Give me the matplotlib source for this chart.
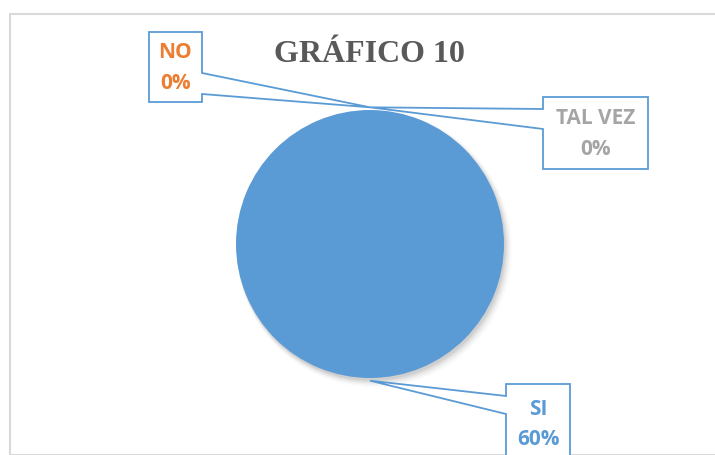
import matplotlib
matplotlib.use("Agg")
import matplotlib.pyplot as plt
from matplotlib.patches import Polygon, Rectangle
from matplotlib.transforms import IdentityTransform
import numpy as np

categories = ["SI", "NO", "TAL VEZ"]
values = [60, 0, 0]
pct_labels = ["60%", "0%", "0%"]
colors = ["#5B9BD5", "#ED7D31", "#A5A5A5"]
title = "GRÁFICO 10"

W, H = 715, 456
fig = plt.figure(figsize=(W / 100, H / 100), dpi=100)
fig.patch.set_facecolor("white")

# chart area border
fig.patches.append(Rectangle((10 / W, 0), 1.2, (H - 15) / H, transform=fig.transFigure,
                             fill=False, edgecolor="#D9D9D9", linewidth=1.5))

cx, cy, r = 370, 245, 134
ax = fig.add_axes([(cx - r) / W, (H - cy - r) / H, 2 * r / W, 2 * r / H])

wedges, _ = ax.pie(values, colors=colors, startangle=90, counterclock=False, radius=1.0,
                   wedgeprops=dict(linewidth=0), normalize=True)
for w in wedges:
    w.set_zorder(2)
ax.set_xlim(-1, 1)
ax.set_ylim(-1, 1)
ax.axis("off")

# soft shadow
for i, a in enumerate(np.linspace(0.05, 0.01, 6)):
    ax.add_patch(plt.Circle((0.012 + i * 0.004, -0.02 - i * 0.004), 1.0 + i * 0.006,
                            color="#000000", alpha=a, zorder=0, linewidth=0, clip_on=False))

fig.text(369 / W, 1 - 54 / H, title, ha="center", va="center", fontsize=23,
         fontweight="bold", family="Liberation Serif", color="#595959")

# callout boxes in pixel coords (x0, y_top, x1, y_bottom), leader joins (y_a, y_b), side
boxes = {
    "NO": ((149, 33, 202, 103), (74, 95), "right"),
    "TAL VEZ": ((543, 98, 648, 170), (110, 130), "left"),
    "SI": ((506, 385, 570, 470), (397, 415), "left"),
}

fig.canvas.draw()
total = sum(values)
cum = 0
tr = IdentityTransform()
T = lambda y: H - y
for cat, v, lab, col in zip(categories, values, pct_labels, colors):
    frac = v / total
    mid = np.deg2rad(90 - (cum + frac / 2) * 360)
    cum += frac
    px, py = ax.transData.transform((1.02 * np.cos(mid), 1.02 * np.sin(mid)))
    (x0, t, x1, b), (ya, yb), side = boxes[cat]
    if side == "right":
        pts = [(x0, T(t)), (x1, T(t)), (x1, T(ya)), (px, py), (x1, T(yb)), (x1, T(b)), (x0, T(b))]
    else:
        pts = [(x0, T(t)), (x1, T(t)), (x1, T(b)), (x0, T(b)), (x0, T(yb)), (px, py), (x0, T(ya))]
    poly = Polygon(pts, closed=True, facecolor="white", edgecolor="#5B9BD5",
                   linewidth=1.3, transform=tr, zorder=5)
    fig.patches.append(poly)
    tx = (x0 + x1) / 2
    ty = (t + b) / 2 if cat != "SI" else (t + 456) / 2 + 4
    fig.text(tx / W, 1 - ty / H, f"{cat}\n{lab}", ha="center", va="center",
             fontsize=15, fontweight="bold", family="Open Sans", color=col,
             linespacing=1.6, zorder=6)

fig.savefig("out.png", dpi=100)
